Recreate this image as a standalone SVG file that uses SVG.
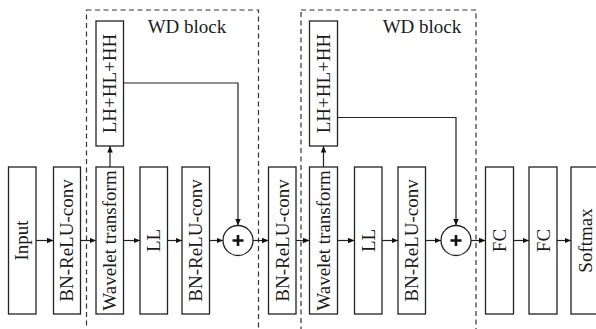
<svg xmlns="http://www.w3.org/2000/svg" width="596" height="329" viewBox="0 0 596 329">
  <style>
    .box { fill: #fff; stroke: #222; stroke-width: 1.3; }
    .blk { fill: none; stroke: #333; stroke-width: 1.2; stroke-dasharray: 5 3.5; }
    .lbl { font-family: "Liberation Serif", "Times New Roman", serif; font-size: 19px; fill: #1a1a1a; text-anchor: middle; }
    .edge { fill: none; stroke: #222; stroke-width: 1.2; }
    .sum { fill: #fff; stroke: #222; stroke-width: 1.3; }
    .plus { stroke: #111; stroke-width: 2.6; }
  </style>
  <defs>
    <marker id="arr" markerUnits="userSpaceOnUse" markerWidth="7" markerHeight="6" refX="6.5" refY="2.75" orient="auto">
      <path d="M0,0 L6.5,2.75 L0,5.5 z" fill="#111"/>
    </marker>
  </defs>

  <!-- dashed WD block outlines -->
  <g id="wd-block-1">
    <rect class="blk" x="86.5" y="10" width="172" height="330"/>
    <text class="lbl" x="187" y="33">WD block</text>
  </g>
  <g id="wd-block-2">
    <rect class="blk" x="301" y="10" width="175" height="330"/>
    <text class="lbl" x="422" y="33">WD block</text>
  </g>

  <!-- connectors -->
  <g id="connectors">
    <line class="edge" x1="36" y1="240.5" x2="53.5" y2="240.5" marker-end="url(#arr)"/>
    <line class="edge" x1="80.5" y1="240.5" x2="96" y2="240.5" marker-end="url(#arr)"/>
    <line class="edge" x1="123.5" y1="240.5" x2="140" y2="240.5" marker-end="url(#arr)"/>
    <line class="edge" x1="167.5" y1="240.5" x2="182" y2="240.5" marker-end="url(#arr)"/>
    <line class="edge" x1="209.5" y1="240.5" x2="223" y2="240.5" marker-end="url(#arr)"/>
    <line class="edge" x1="253" y1="240.5" x2="268.5" y2="240.5" marker-end="url(#arr)"/>
    <line class="edge" x1="296" y1="240.5" x2="309.5" y2="240.5" marker-end="url(#arr)"/>
    <line class="edge" x1="337.5" y1="240.5" x2="354.5" y2="240.5" marker-end="url(#arr)"/>
    <line class="edge" x1="382" y1="240.5" x2="398" y2="240.5" marker-end="url(#arr)"/>
    <line class="edge" x1="425.5" y1="240.5" x2="441" y2="240.5" marker-end="url(#arr)"/>
    <line class="edge" x1="471" y1="240.5" x2="485.5" y2="240.5" marker-end="url(#arr)"/>
    <line class="edge" x1="513.5" y1="240.5" x2="529" y2="240.5" marker-end="url(#arr)"/>
    <line class="edge" x1="557" y1="240.5" x2="571" y2="240.5" marker-end="url(#arr)"/>
    <!-- wavelet transform to high-frequency bands -->
    <line class="edge" x1="110" y1="167" x2="110" y2="146" marker-end="url(#arr)"/>
    <line class="edge" x1="323.5" y1="167" x2="323.5" y2="146" marker-end="url(#arr)"/>
    <!-- high-frequency skip paths into the sums -->
    <polyline class="edge" points="123.5,83 238,83 238,225.5" marker-end="url(#arr)"/>
    <polyline class="edge" points="337.5,117.5 456,117.5 456,225.5" marker-end="url(#arr)"/>
  </g>

  <!-- nodes -->
  <g id="input">
    <rect class="box" x="8.5" y="167" width="27.5" height="147"/>
    <text class="lbl" transform="translate(28.3,240.5) rotate(-90)">Input</text>
  </g>
  <g id="bn-relu-conv-1">
    <rect class="box" x="53.5" y="167" width="27" height="147"/>
    <text class="lbl" transform="translate(73,240.5) rotate(-90)">BN-ReLU-conv</text>
  </g>
  <g id="wavelet-1">
    <rect class="box" x="96" y="167" width="27.5" height="147"/>
    <text class="lbl" transform="translate(116,240.5) rotate(-90)">Wavelet transform</text>
  </g>
  <g id="high-1">
    <rect class="box" x="96" y="21" width="27.5" height="125"/>
    <text class="lbl" transform="translate(116,83.5) rotate(-90)">LH+HL+HH</text>
  </g>
  <g id="ll-1">
    <rect class="box" x="140" y="167" width="27.5" height="147"/>
    <text class="lbl" transform="translate(160,240.5) rotate(-90)">LL</text>
  </g>
  <g id="bn-relu-conv-2">
    <rect class="box" x="182" y="167" width="27.5" height="147"/>
    <text class="lbl" transform="translate(202,240.5) rotate(-90)">BN-ReLU-conv</text>
  </g>
  <g id="sum-1">
    <circle class="sum" cx="238" cy="240.5" r="15"/>
    <path class="plus" d="M232.5,240.5 H243.5 M238,235 V246"/>
  </g>
  <g id="bn-relu-conv-3">
    <rect class="box" x="268.5" y="167" width="27.5" height="147"/>
    <text class="lbl" transform="translate(288.5,240.5) rotate(-90)">BN-ReLU-conv</text>
  </g>
  <g id="wavelet-2">
    <rect class="box" x="309.5" y="167" width="28" height="147"/>
    <text class="lbl" transform="translate(329.5,240.5) rotate(-90)">Wavelet transform</text>
  </g>
  <g id="high-2">
    <rect class="box" x="309.5" y="21" width="28" height="125"/>
    <text class="lbl" transform="translate(329.5,83.5) rotate(-90)">LH+HL+HH</text>
  </g>
  <g id="ll-2">
    <rect class="box" x="354.5" y="167" width="27.5" height="147"/>
    <text class="lbl" transform="translate(374.5,240.5) rotate(-90)">LL</text>
  </g>
  <g id="bn-relu-conv-4">
    <rect class="box" x="398" y="167" width="27.5" height="147"/>
    <text class="lbl" transform="translate(418,240.5) rotate(-90)">BN-ReLU-conv</text>
  </g>
  <g id="sum-2">
    <circle class="sum" cx="456" cy="240.5" r="15"/>
    <path class="plus" d="M450.5,240.5 H461.5 M456,235 V246"/>
  </g>
  <g id="fc-1">
    <rect class="box" x="485.5" y="167" width="28" height="147"/>
    <text class="lbl" transform="translate(506,240.5) rotate(-90)">FC</text>
  </g>
  <g id="fc-2">
    <rect class="box" x="529" y="167" width="28" height="147"/>
    <text class="lbl" transform="translate(549.5,240.5) rotate(-90)">FC</text>
  </g>
  <g id="softmax">
    <rect class="box" x="571" y="167" width="32" height="147"/>
    <text class="lbl" transform="translate(591.5,240.5) rotate(-90)">Softmax</text>
  </g>
</svg>
